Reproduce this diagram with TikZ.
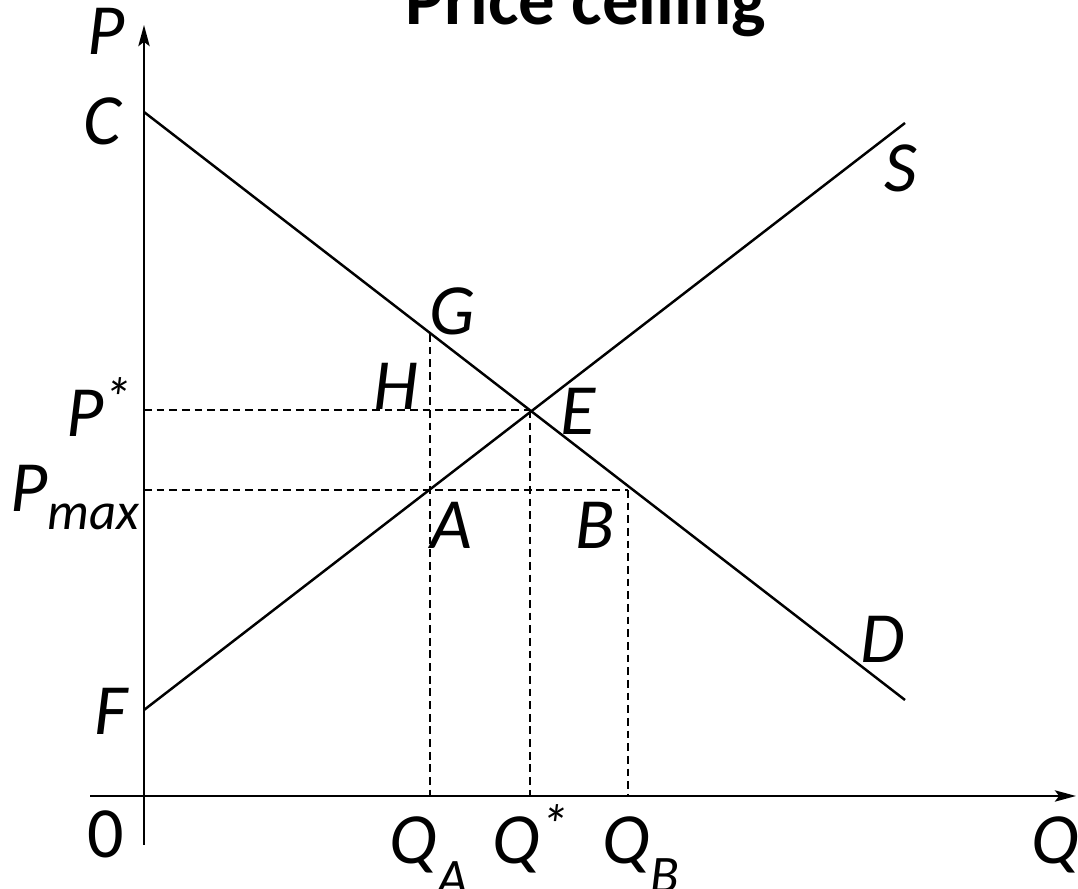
\documentclass[tikz,border=0pt]{standalone}
\usepackage{fontspec}
\setmainfont{Carlito}
\usetikzlibrary{arrows.meta}
\newcommand{\lblsize}{\fontsize{20.5pt}{24pt}\selectfont}
\newcommand{\subsz}{\fontsize{15pt}{18pt}\selectfont}
\newcommand{\supsz}{\fontsize{16pt}{18pt}\selectfont}
\newcommand{\mysub}[2]{\raisebox{-#1}{\subsz #2}}
\newcommand{\mysup}[1]{\raisebox{5.5pt}{\supsz #1}}
\begin{document}
\begin{tikzpicture}[x=0.01cm,y=-0.01cm,
  curve/.style={line width=0.7pt,black},
  axis/.style={line width=0.7pt,black,-{Stealth[length=6pt,width=3.2pt,inset=1.2pt]}},
  guide/.style={line width=0.35pt,black,dash pattern=on 2.2pt off 1.4pt},
  lbl/.style={font=\lblsize\itshape,inner sep=0pt,anchor=base},
  ttl/.style={font=\fontsize{20.7pt}{24pt}\selectfont\bfseries,inner sep=0pt,anchor=base}]
\useasboundingbox (0,0) rectangle (1078,889);
% key points
\coordinate (Ptop) at (144,25);
\coordinate (Pbot) at (144,845);
\coordinate (Qleft) at (90,796);
\coordinate (Qtip) at (1076,796);
\coordinate (Cpt) at (144,112);
\coordinate (Dend) at (905,700);
\coordinate (Fpt) at (144,710);
\coordinate (Send) at (905,123);
\coordinate (Ept) at (530,410);
\coordinate (Gpt) at (430,334);
\coordinate (Apt) at (430,490);
\coordinate (Bpt) at (628,490);
\coordinate (Pstar) at (144,410);
\coordinate (Pmax) at (144,490);
\coordinate (QAax) at (430,796);
\coordinate (QSax) at (530,796);
\coordinate (QBax) at (628,796);
% guides
\draw[guide] (Pstar) -- (Ept);
\draw[guide] (Pmax) -- (Bpt);
\draw[guide] (Gpt) -- (QAax);
\draw[guide] (Ept) -- (QSax);
\draw[guide] (Bpt) -- (QBax);
% axes
\draw[axis] (Pbot) -- (Ptop);
\draw[axis] (Qleft) -- (Qtip);
% curves
\draw[curve] (Cpt) -- (Dend);
\draw[curve] (Fpt) -- (Send);
% labels
\node[ttl] (title) at (586,25) {Price ceiling};
\node[lbl] (lP) at (106,55) {P};
\node[lbl] (lC) at (102,145) {C};
\node[lbl] (lS) at (901,192) {S};
\node[lbl] (lG) at (452,335) {G};
\node[lbl] (lH) at (396,410) {H};
\node[lbl,anchor=base west] (lPs) at (66,437) {P\mysup{*}};
\node[lbl] (lE) at (578,435) {E};
\node[lbl,anchor=base west] (lPm) at (10,512) {P\mysub{5pt}{max}};
\node[lbl] (lA) at (451,549) {A};
\node[lbl] (lB) at (595,549) {B};
\node[lbl] (lD) at (883,663) {D};
\node[lbl] (lF) at (111,735) {F};
\node[lbl,font=\lblsize\upshape] (l0) at (106,858) {0};
\node[lbl,anchor=base west] (lQA) at (389,864) {Q\mysub{9pt}{A}};
\node[lbl,anchor=base west] (lQs) at (492,864) {Q\mysup{*}};
\node[lbl,anchor=base west] (lQB) at (602,864) {Q\mysub{8pt}{B}};
\node[lbl,anchor=base west] (lQ) at (1031,864) {Q};
\end{tikzpicture}
\end{document}
